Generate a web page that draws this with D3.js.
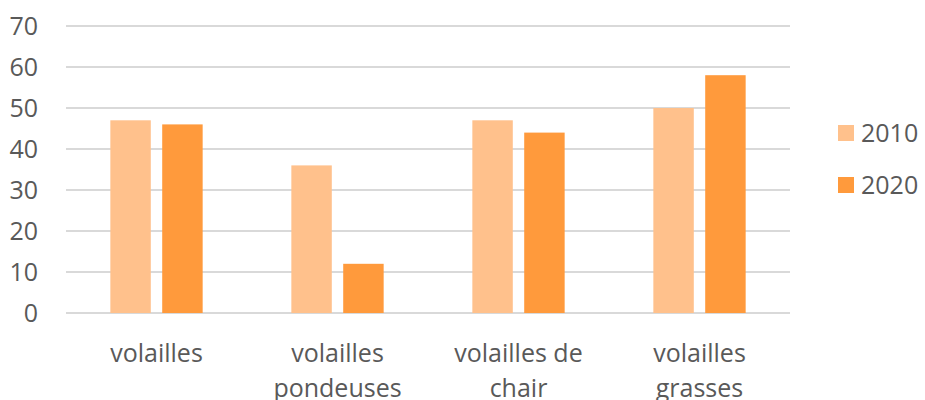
<!DOCTYPE html>
<html lang="fr">
<head>
  <meta charset="UTF-8">
  <title>Volailles 2010 / 2020</title>
  <script src="https://d3js.org/d3.v7.min.js"></script>
  <style>
    body { margin: 0; background: #fff; }
    svg { display: block; font-family: "Open Sans", Lato, sans-serif; }
    .tick text, .cat, .legend text { fill: #595959; }
  </style>
</head>
<body>
  <svg width="925" height="400"></svg>
  <script>
    // categories and series
    const categories = ["volailles", "volailles pondeuses", "volailles de chair", "volailles grasses"];
    const categoryLines = [["volailles"], ["volailles", "pondeuses"], ["volailles de", "chair"], ["volailles", "grasses"]];
    const seriesNames = ["2010", "2020"];
    const values2010 = [47, 36, 47, 50];
    const values2020 = [46, 12, 44, 58];
    const yTicks = [0, 10, 20, 30, 40, 50, 60, 70];
    const colors = ["#FFC18C", "#FF9A3C"];

    const svg = d3.select("svg");
    const margin = { left: 66, right: 135, top: 26, bottom: 87 };
    const width = 925, height = 400;

    // one band per category, no padding; bars take the middle half of each band
    const x0 = d3.scaleBand()
      .domain(categories)
      .range([margin.left, width - margin.right])
      .padding(0);
    const groupW = x0.bandwidth() * 0.51;
    const x1 = d3.scaleBand()
      .domain(seriesNames)
      .range([(x0.bandwidth() - groupW) / 2, (x0.bandwidth() + groupW) / 2])
      .paddingInner(0.22);
    const y = d3.scaleLinear()
      .domain([0, 70])
      .range([height - margin.bottom, margin.top]);

    // gridlines
    svg.append("g")
      .selectAll("line")
      .data(yTicks)
      .join("line")
      .attr("x1", margin.left)
      .attr("x2", width - margin.right)
      .attr("y1", d => y(d))
      .attr("y2", d => y(d))
      .attr("stroke", "#D9D9D9")
      .attr("stroke-width", 2);

    // y axis labels
    const yAxis = svg.append("g")
      .attr("transform", `translate(${margin.left},0)`)
      .call(d3.axisLeft(y).tickValues(yTicks).tickSize(0).tickPadding(28));
    yAxis.select(".domain").remove();
    yAxis.selectAll("text")
      .style("font-size", "25px")
      .style("font-family", "'Open Sans', Lato, sans-serif");

    // bars
    const rows = categories.map((c, i) => ({ cat: c, vals: [values2010[i], values2020[i]] }));
    const groups = svg.append("g")
      .selectAll("g")
      .data(rows)
      .join("g")
      .attr("transform", d => `translate(${x0(d.cat)},0)`);
    groups.selectAll("rect")
      .data(d => d.vals.map((v, j) => ({ s: seriesNames[j], v: v, j: j })))
      .join("rect")
      .attr("x", d => x1(d.s))
      .attr("width", x1.bandwidth())
      .attr("y", d => y(d.v))
      .attr("height", d => y(0) - y(d.v))
      .attr("fill", d => colors[d.j]);

    // category labels
    svg.append("g")
      .selectAll("text")
      .data(categories)
      .join("text")
      .attr("class", "cat")
      .attr("text-anchor", "middle")
      .attr("x", d => x0(d) + x0.bandwidth() / 2)
      .attr("y", 362)
      .style("font-size", "25px")
      .each(function(d, i) {
        d3.select(this).selectAll("tspan")
          .data(categoryLines[i])
          .join("tspan")
          .attr("x", x0(d) + x0.bandwidth() / 2)
          .attr("dy", (t, k) => k === 0 ? 0 : 35)
          .text(t => t);
      });

    // legend
    const legend = svg.append("g").attr("class", "legend")
      .attr("transform", "translate(838,125)");
    const items = legend.selectAll("g")
      .data(seriesNames)
      .join("g")
      .attr("transform", (d, i) => `translate(0,${i * 52})`);
    items.append("rect")
      .attr("width", 16).attr("height", 16)
      .attr("fill", (d, i) => colors[i]);
    items.append("text")
      .attr("x", 23).attr("y", 17)
      .style("font-size", "25px")
      .text(d => d);
  </script>
</body>
</html>
